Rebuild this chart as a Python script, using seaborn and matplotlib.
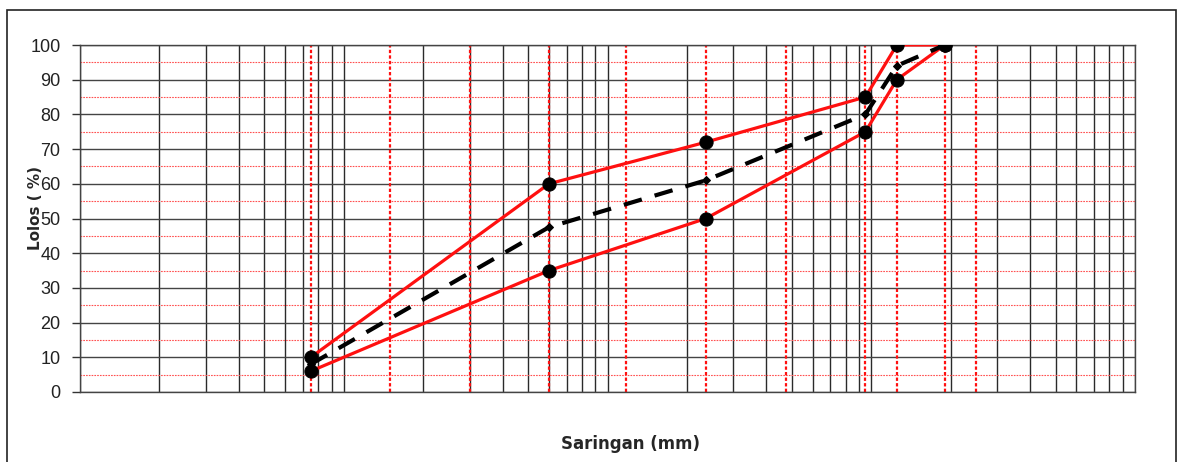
import numpy as np
import pandas as pd
import seaborn as sns
import matplotlib.pyplot as plt
from matplotlib.patches import Rectangle
from matplotlib.ticker import LogLocator, MultipleLocator, NullFormatter

# sieve sizes (mm) and grading envelope (% passing)
sieve = [0.075, 0.15, 0.3, 0.6, 1.18, 2.36, 4.75, 9.5, 12.5, 19, 25]
sieve_pts = [0.075, 0.6, 2.36, 9.5, 12.5, 19]
upper = [10, 60, 72, 85, 100, 100]
lower = [6, 35, 50, 75, 90, 100]
middle = [8, 47.5, 61, 80, 94, 100]
y_ticks = [0, 10, 20, 30, 40, 50, 60, 70, 80, 90, 100]

df = pd.DataFrame({'sieve': sieve_pts * 3,
                   'lolos': upper + lower + middle,
                   'batas': ['atas'] * 6 + ['bawah'] * 6 + ['tengah'] * 6})

sns.set_style("white")
plt.rcParams['font.family'] = ['Liberation Sans', 'DejaVu Sans']

fig = plt.figure(figsize=(11.78, 4.62), dpi=100)
ax = fig.add_axes([80/1178, 1-392/462, 1055/1178, 347/462])
ax.set_xscale('log')
ax.set_xlim(0.01, 100)
ax.set_ylim(0, 100)

# grid: black solid at log minor/major and every 10 %, red dotted at 5 %
ax.xaxis.set_major_locator(LogLocator(base=10, subs=np.arange(1, 10)))
ax.xaxis.set_minor_locator(LogLocator(base=10, subs=np.arange(1, 10)))
ax.xaxis.set_major_formatter(NullFormatter())
ax.xaxis.set_minor_formatter(NullFormatter())
ax.yaxis.set_major_locator(MultipleLocator(10))
ax.yaxis.set_minor_locator(MultipleLocator(5))
ax.grid(True, which='major', axis='x', color='#2a2a2a', lw=1.0)
ax.grid(True, which='major', axis='y', color='#444444', lw=1.0)
ax.grid(True, which='minor', axis='y', color='#ff5050', lw=0.8, ls=(0, (1.5, 1)))
ax.set_axisbelow(True)

# red dotted lines at sieve sizes
ax.vlines(sieve, 0, 100, colors='#ff1010', linestyles=(0, (1.5, 1)), lw=1.6, zorder=1)

for name in ['atas', 'bawah']:
    d = df[df['batas'] == name]
    sns.lineplot(data=d, x='sieve', y='lolos', ax=ax, color='#ff1010', lw=2.3,
                 marker='o', markersize=9.5, markerfacecolor='black',
                 markeredgecolor='black', sort=False, zorder=3)
d = df[df['batas'] == 'tengah']
sns.lineplot(data=d, x='sieve', y='lolos', ax=ax, color='black', lw=3.0,
             ls=(0, (4.5, 3.2)), marker='D', markersize=4, markeredgecolor='black',
             sort=False, zorder=4)

ax.set_yticks(y_ticks)
ax.set_yticklabels([str(v) for v in y_ticks], fontsize=13, color='#222222')
ax.tick_params(axis='y', which='major', length=6, width=1, color='#333333', pad=8, left=True)
ax.tick_params(axis='y', which='minor', length=0)
ax.tick_params(axis='x', which='both', length=0)

for s in ax.spines.values():
    s.set_color('#444444')
    s.set_linewidth(1.0)

ax.set_xlabel('Saringan (mm)', fontsize=12, fontweight='bold', family='DejaVu Sans')
ax.xaxis.set_label_coords(0.522, -0.124)
ax.set_ylabel('Lolos ( %)', fontsize=11, fontweight='bold', family='DejaVu Sans')
ax.yaxis.set_label_coords(-0.035, 0.53)

fig.patches.append(Rectangle((7/1178, -0.1), 1169/1178, 1.1 - 10/462, transform=fig.transFigure,
                             fill=False, edgecolor='#222222', lw=1.2))

fig.savefig('out.png', dpi=100)
